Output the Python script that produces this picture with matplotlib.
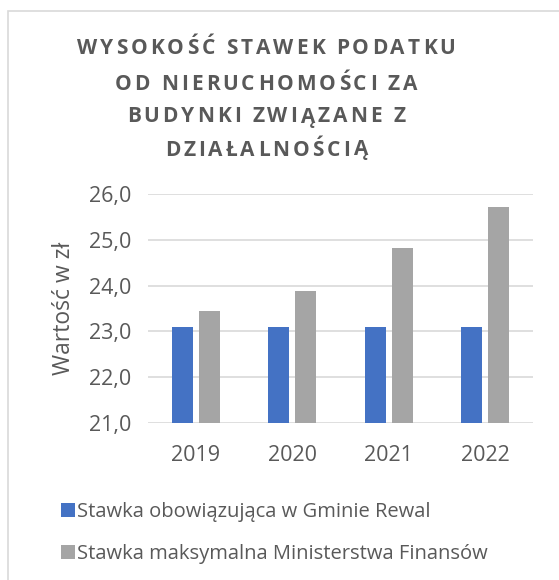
import numpy as np
import matplotlib
matplotlib.use('Agg')
import matplotlib.pyplot as plt
from matplotlib.font_manager import FontProperties
from matplotlib.patches import Rectangle

lata = ['2019', '2020', '2021', '2022']
stawka_gmina = [23.09, 23.09, 23.09, 23.09]
stawka_max = [23.45, 23.89, 24.83, 25.73]
nazwy = ['Stawka obowiązująca w Gminie Rewal',
         'Stawka maksymalna Ministerstwa Finansów']
tytul = ['WYSOKOŚĆ STAWEK PODATKU', 'OD NIERUCHOMOŚCI ZA',
         'BUDYNKI ZWIĄZANE Z', 'DZIAŁALNOŚCIĄ']

szary = '#595959'
niebieski = '#4472C4'
szary_slupek = '#A5A5A5'
font = 'Open Sans'

fig = plt.figure(figsize=(5.59, 5.8), dpi=100)
W, H = 559, 580

# ramka wykresu (jak w Excelu)
fig.patches.append(Rectangle((8 / W, -0.1), 2, 1.1 - 11 / H, transform=fig.transFigure,
                             fill=False, edgecolor='#D9D9D9', linewidth=1.2))

ax = fig.add_axes([147.7 / W, 1 - 422.7 / H, 385.6 / W, 228.4 / H])
x = np.arange(len(lata))
szer = 0.218
ax.bar(x - 0.142, stawka_gmina, szer, color=niebieski, label=nazwy[0], zorder=3)
ax.bar(x + 0.142, stawka_max, szer, color=szary_slupek, label=nazwy[1], zorder=3)

ax.set_xlim(-0.5, 3.5)
ax.set_ylim(21, 26)
ax.set_yticks(np.arange(21, 26.5, 1))
ax.set_yticklabels([f'{v:.1f}'.replace('.', ',') for v in np.arange(21, 26.5, 1)])
ax.set_xticks(x)
ax.set_xticklabels(lata)
ax.grid(axis='y', color='#D9D9D9', linewidth=1.2, zorder=0)
for s in ax.spines.values():
    s.set_visible(False)
ax.tick_params(length=0, labelsize=15.5, labelcolor=szary, labelfontfamily=font)
ax.tick_params(axis='x', pad=16)
ax.tick_params(axis='y', pad=12)
ax.set_ylabel('Wartość w zł', fontsize=16.5, color=szary, family=font, labelpad=9)

# tytul z rozstrzelonymi literami
renderer = fig.canvas.get_renderer()
fp = FontProperties(family=font, weight='bold', size=15)
odstep = 3.0
linie_y = [48, 84, 117, 150]
for linia, yy in zip(tytul, linie_y):
    szer_z = [renderer.get_text_width_height_descent(c, fp, ismath=False)[0] for c in linia]
    calosc = sum(szer_z) + odstep * (len(linia) - 1)
    xx = 266 - calosc / 2
    for c, w in zip(linia, szer_z):
        fig.text(xx / W, 1 - yy / H, c, fontproperties=fp, color=szary,
                 ha='left', va='center')
        xx += w + odstep

leg = fig.legend(loc='upper left', bbox_to_anchor=(43 / W, 1 - 484 / H),
                 frameon=False, ncol=1, handlelength=0.7, handleheight=0.7,
                 handletextpad=0.1, labelspacing=1.1,
                 prop=FontProperties(family=font, size=14.5))
for t in leg.get_texts():
    t.set_color(szary)

fig.savefig('out.png', dpi=100)
